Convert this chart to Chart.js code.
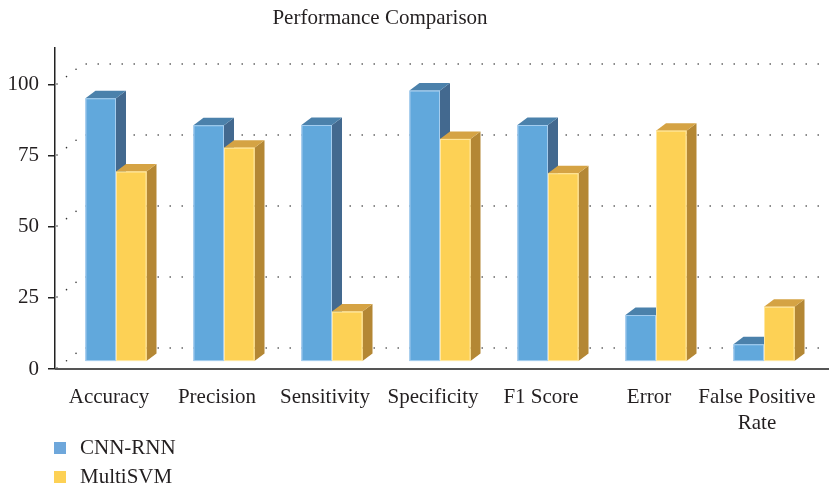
<!DOCTYPE html>
<html>
<head>
<meta charset="utf-8">
<script src="https://cdn.jsdelivr.net/npm/chart.js@4/dist/chart.umd.min.js"></script>
<style>
  html, body { margin: 0; padding: 0; background: #fff; }
  #wrap { width: 829px; height: 485px; position: relative; }
</style>
</head>
<body>
<div id="wrap"><canvas id="perfChart"></canvas></div>
<script>
// Datos
const categories = ['Accuracy', 'Precision', 'Sensitivity', 'Specificity', 'F1 Score', 'Error', ['False Positive', 'Rate']];
const cnnRnn = [95.3, 85.8, 85.9, 98.0, 85.9, 19.0, 8.7];
const multiSvm = [69.5, 77.9, 20.2, 81.0, 68.9, 83.9, 21.9];
const yTicks = [0, 25, 50, 75, 100];
const floorValue = 2.8; // la cara frontal de las barras 3D empieza un poco por encima de 0

const FONT = '"Liberation Serif", "Times New Roman", serif';
const TEXT = '#231f20';

// colores de las caras (frontal, superior, lateral)
const faces = [
    { front: '#61a8dc', top: '#4b81ab', side: '#43698f', edge: '#a5cdee', legend: '#6ea7db' },
    { front: '#fdd155', top: '#d5a344', side: '#b48734', edge: '#ffe7a0', legend: '#fdd155' }
];

const depthX = 10, depthY = 7.5, barShift = 7;

function drawBox(ctx, left, right, top, bottom, c) {
    // lateral
    ctx.fillStyle = c.side;
    ctx.beginPath();
    ctx.moveTo(right, top);
    ctx.lineTo(right + depthX, top - depthY);
    ctx.lineTo(right + depthX, bottom - depthY);
    ctx.lineTo(right, bottom);
    ctx.closePath();
    ctx.fill();
    // superior
    ctx.fillStyle = c.top;
    ctx.beginPath();
    ctx.moveTo(left, top);
    ctx.lineTo(left + depthX, top - depthY);
    ctx.lineTo(right + depthX, top - depthY);
    ctx.lineTo(right, top);
    ctx.closePath();
    ctx.fill();
    // frontal
    ctx.fillStyle = c.front;
    ctx.fillRect(left, top, right - left, bottom - top);
    ctx.strokeStyle = c.edge;
    ctx.lineWidth = 1;
    ctx.strokeRect(left + 0.5, top + 0.5, right - left - 1, bottom - top - 1);
}

const bars3d = {
    id: 'bars3d',
    beforeDatasetsDraw(chart) {
        // rejilla punteada en la pared del fondo
        const { ctx, chartArea, scales } = chart;
        ctx.save();
        ctx.strokeStyle = '#333';
        ctx.lineWidth = 1.6;
        ctx.lineCap = 'round';
        ctx.setLineDash([0, 12]);
        yTicks.forEach(v => {
            const y = scales.y.getPixelForValue(v);
            ctx.beginPath();
            ctx.moveTo(chartArea.left + 2, y - 1);
            ctx.lineTo(chartArea.left + 28, y - 21);
            ctx.lineTo(chart.width - 8, y - 21);
            ctx.stroke();
        });
        ctx.restore();
    },
    afterDatasetsDraw(chart) {
        const { ctx } = chart;
        ctx.save();
        for (let i = 0; i < categories.length; i++) {
            [0, 1].forEach(d => {
                const el = chart.getDatasetMeta(d).data[i];
                const p = el.getProps(['x', 'y', 'base', 'width'], true);
                const left = p.x - p.width / 2 + barShift;
                drawBox(ctx, left, left + p.width, p.y, p.base, faces[d]);
            });
        }
        ctx.restore();
    },
    afterDraw(chart) {
        const { ctx, chartArea } = chart;
        ctx.save();
        // eje X
        ctx.strokeStyle = '#555';
        ctx.lineWidth = 2;
        ctx.beginPath();
        ctx.moveTo(chartArea.left, chartArea.bottom);
        ctx.lineTo(chart.width, chartArea.bottom);
        ctx.stroke();
        // título
        ctx.fillStyle = TEXT;
        ctx.font = '21px ' + FONT;
        ctx.textAlign = 'center';
        ctx.textBaseline = 'middle';
        ctx.fillText('Performance Comparison', 380, 18);
        // leyenda
        ctx.textAlign = 'left';
        chart.data.datasets.forEach((ds, d) => {
            const y = 448 + d * 29;
            ctx.fillStyle = faces[d].legend;
            ctx.fillRect(54, y - 6, 12, 12);
            ctx.fillStyle = TEXT;
            ctx.fillText(ds.label, 80, y);
        });
        ctx.restore();
    }
};

const chart = new Chart(document.getElementById('perfChart'), {
    type: 'bar',
    data: {
        labels: categories,
        datasets: [
            // las caras 3D se pintan en el plugin; las barras planas quedan transparentes
            { label: 'CNN-RNN', data: cnnRnn.map(v => [floorValue, v]), backgroundColor: 'rgba(0,0,0,0)' },
            { label: 'MultiSVM', data: multiSvm.map(v => [floorValue, v]), backgroundColor: 'rgba(0,0,0,0)' }
        ]
    },
    options: {
        responsive: true,
        maintainAspectRatio: false,
        animation: false,
        datasets: { bar: { barPercentage: 1, categoryPercentage: 0.565 } },
        layout: { padding: { top: 48, right: 18, bottom: 36, left: 0 } },
        plugins: {
            legend: { display: false },
            title: { display: false },
            tooltip: { enabled: false }
        },
        scales: {
            x: {
                grid: { display: false },
                border: { display: false },
                ticks: {
                    font: { family: FONT, size: 21, lineHeight: 1.22 },
                    color: TEXT,
                    padding: 8,
                    maxRotation: 0,
                    autoSkip: false
                },
                afterFit(scale) { scale.height = 80; }
            },
            y: {
                min: 0,
                max: 113,
                afterBuildTicks(scale) { scale.ticks = yTicks.map(v => ({ value: v })); },
                grid: { drawOnChartArea: false, drawTicks: true, tickLength: 7, color: '#222', lineWidth: 1.5 },
                border: { display: true, color: '#222', width: 1.5 },
                ticks: { font: { family: FONT, size: 21 }, color: TEXT, padding: 9 },
                afterFit(scale) { scale.width = 55; }
            }
        }
    },
    plugins: [bars3d]
});
</script>
</body>
</html>
